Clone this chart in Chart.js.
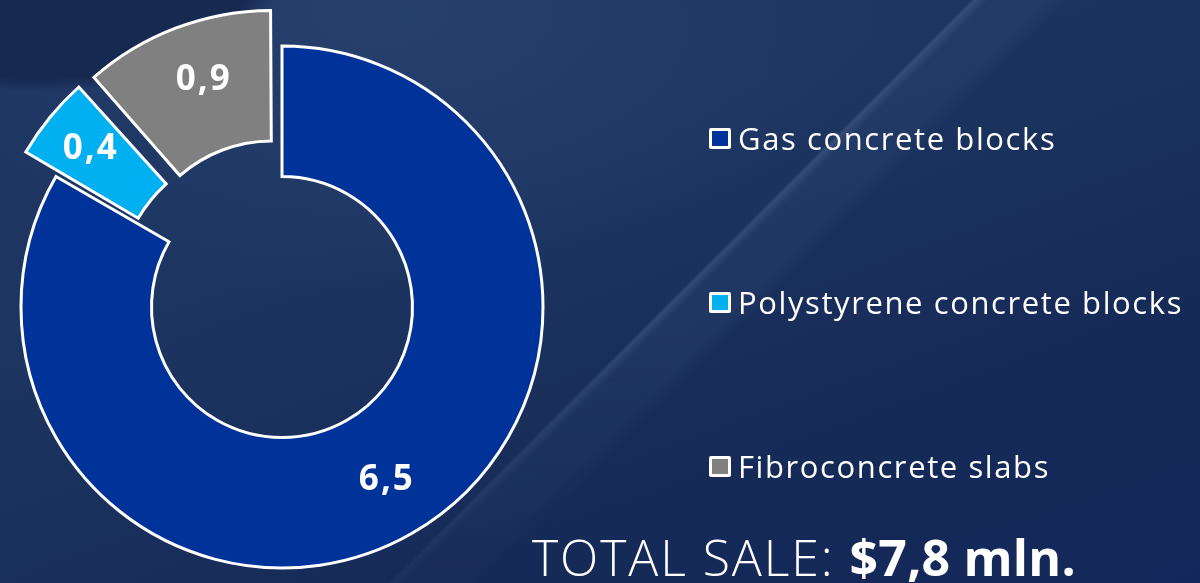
<!DOCTYPE html>
<html>
<head>
<meta charset="utf-8">
<script src="https://cdn.jsdelivr.net/npm/chart.js@4"></script>
<style>
  html, body { margin: 0; padding: 0; }
  body {
    width: 1200px; height: 583px; overflow: hidden; position: relative;
    background:
      radial-gradient(ellipse 300px 130px at 40px -10px, rgba(16,32,68,0.65), rgba(16,32,68,0.65) 68%, rgba(16,32,68,0) 78%),
      radial-gradient(ellipse 700px 360px at 380px 10px, rgba(60,90,140,0.30), rgba(60,90,140,0) 80%),
      linear-gradient(160deg, #1d345f 0%, #1d3561 35%, #172b58 70%, #13275a 100%);
    font-family: "Open Sans", sans-serif;
    color: #fff;
  }
  #streak {
    position: absolute; left: 0; top: 0; width: 1200px; height: 583px;
    background: linear-gradient(135deg, rgba(0,0,0,0) 0%, rgba(0,0,0,0) 54.4%, rgba(150,175,220,0.20) 54.7%, rgba(110,140,190,0.08) 55.4%, rgba(110,140,190,0.08) 58.5%, rgba(0,0,0,0) 60%);
    -webkit-mask-image: linear-gradient(to bottom, #000 0%, #000 55%, rgba(0,0,0,0.25) 100%);
    mask-image: linear-gradient(to bottom, #000 0%, #000 55%, rgba(0,0,0,0.25) 100%);
  }
  #chart { position: absolute; left: 0; top: 0; }
  #legend { position: absolute; left: 709px; top: 0; }
  .item { position: absolute; left: 0; white-space: nowrap; font-size: 31px; line-height: 40px; letter-spacing: 1.6px; }
  .box { display: inline-block; width: 16px; height: 15px; border: 3px solid #fff; border-radius: 2px; vertical-align: middle; margin-right: 7px; position: relative; top: -3px; }
  #total { position: absolute; left: 532px; top: 527px; font-size: 50px; line-height: 60px; white-space: nowrap; font-weight: 300; letter-spacing: 1.9px; }
  #total b { font-weight: 700; letter-spacing: 0.2px; }
</style>
</head>
<body>
<div id="streak"></div>
<canvas id="chart" width="1200" height="583"></canvas>
<div id="legend"></div>
<div id="total">TOTAL SALE: <b>$7,8 mln.</b></div>
<script>
var labels = ["Gas concrete blocks", "Polystyrene concrete blocks", "Fibroconcrete slabs"];
var values = [6.5, 0.4, 0.9];
var colors = ["#003399", "#00B0F0", "#808080"];
// pull-out of the small slices (Chart.js v4 moves by offset/4 and widens narrow arcs a bit)
var offsets = [0, 92, 112];

// legend built from the same arrays
var legend = document.getElementById("legend");
var legendY = [138, 302, 466];
labels.forEach(function (l, i) {
  var d = document.createElement("div");
  d.className = "item";
  d.style.top = (legendY[i] - 20) + "px";
  d.innerHTML = '<span class="box" style="background:' + colors[i] + '"></span>' + l;
  legend.appendChild(d);
});

var valueLabels = {
  id: "valueLabels",
  afterDatasetsDraw: function (chart) {
    var ctx = chart.ctx;
    var meta = chart.getDatasetMeta(0);
    ctx.save();
    ctx.fillStyle = "#fff";
    ctx.font = "bold 35px 'Open Sans'";
    ctx.letterSpacing = "2px";
    ctx.textAlign = "center";
    ctx.textBaseline = "middle";
    meta.data.forEach(function (arc, i) {
      var mid = (arc.startAngle + arc.endAngle) / 2;
      var shift = offsets[i] / 4;
      var fix = 1 - Math.sin(Math.min(Math.PI, arc.circumference));
      var r = (arc.innerRadius + arc.outerRadius) / 2 + shift * fix + shift + (shift ? 10 : 4);
      var x = arc.x + Math.cos(mid) * r;
      var y = arc.y + Math.sin(mid) * r;
      if (i === 0) x += 5;
      if (i === 1) { x -= 2; y -= 3; }
      if (i === 2) x += 8;
      ctx.fillText(values[i].toFixed(1).replace(".", ","), x, y);
    });
    ctx.restore();
  }
};

var ctx = document.getElementById("chart").getContext("2d");
var chart = new Chart(ctx, {
  type: "doughnut",
  data: {
    labels: labels,
    datasets: [
      {
        data: values,
        backgroundColor: colors,
        borderColor: "#ffffff",
        borderWidth: 3,
        borderJoinStyle: "miter",
        offset: offsets,
        hoverOffset: 0,
        clip: false
      }
    ]
  },
  options: {
    responsive: false,
    animation: false,
    cutout: "50%",
    radius: 261,
    layout: { padding: { left: 0, right: 636, top: 31, bottom: 0 } },
    plugins: {
      legend: { display: false },
      tooltip: { enabled: false }
    }
  },
  plugins: [valueLabels]
});
</script>
</body>
</html>
